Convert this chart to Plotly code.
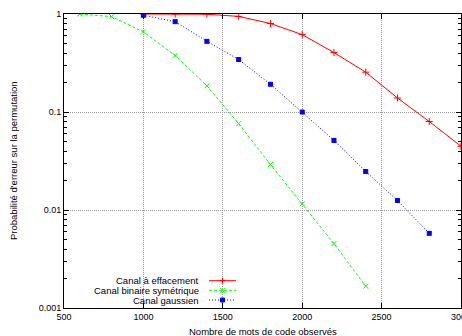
import plotly.graph_objects as go

x_eff = [1000, 1200, 1400, 1600, 1800, 2000, 2200, 2400, 2600, 2800, 3000]
y_eff = [1.0, 1.0, 0.995, 0.945, 0.80, 0.616, 0.404, 0.255, 0.139, 0.080, 0.0447]

x_bsc = [600, 800, 1000, 1200, 1400, 1600, 1800, 2000, 2200, 2400]
y_bsc = [1.0, 0.94, 0.656, 0.377, 0.185, 0.076, 0.0291, 0.0116, 0.00454, 0.00167]

x_gau = [1000, 1200, 1400, 1600, 1800, 2000, 2200, 2400, 2600, 2800]
y_gau = [0.97, 0.835, 0.526, 0.343, 0.192, 0.100, 0.0513, 0.0247, 0.0125, 0.00578]

names = ["Canal à effacement", "Canal binaire symétrique", "Canal gaussien"]
x_title = "Nombre de mots de code observés"
y_title = "Probabilité d'erreur sur la permutation"
x_ticks = [500, 1000, 1500, 2000, 2500, 3000]
y_ticks = [0.001, 0.01, 0.1, 1]
y_ticklabels = ["0.001", "0.01", "0.1", "1"]
y_minor_ticks = [m * 10 ** e for e in (-3, -2, -1) for m in range(2, 10)]

colors = ["#ff0000", "#00ff00", "#0000ff"]

W, H = 462, 336
ML, MR, MT, MB = 64, 1, 14, 28
PW, PH = W - ML - MR, H - MT - MB


def px(xp):
    return (xp - ML) / PW


def py(yp):
    return (H - MB - yp) / PH


fig = go.Figure()
fig.add_trace(go.Scatter(
    x=x_eff, y=y_eff, name=names[0], mode="lines+markers",
    line=dict(color=colors[0], width=1, dash="solid"),
    marker=dict(symbol="cross-thin-open", size=5, color=colors[0],
                line=dict(color=colors[0], width=1)),
))
fig.add_trace(go.Scatter(
    x=x_bsc, y=y_bsc, name=names[1], mode="lines+markers",
    line=dict(color=colors[1], width=1, dash="3px,2px"),
    marker=dict(symbol="x-thin-open", size=5, color=colors[1],
                line=dict(color=colors[1], width=1)),
))
fig.add_trace(go.Scatter(
    x=x_gau, y=y_gau, name=names[2], mode="lines+markers",
    line=dict(color=colors[2], width=1, dash="1px,2px"),
    marker=dict(symbol="square-x", size=4, color=colors[2],
                line=dict(color=colors[2], width=1)),
))

# custom gnuplot-style legend (text right-aligned, key sample on the right)
shapes = []
annotations = []
dashes = ["solid", "3px,2px", "1px,2px"]
leg_text_right = 201
leg_x0, leg_x1, leg_xc = 209, 236, 222.5
leg_rows = [280.7, 290.3, 300.0]
for i, (nm, col, ds, yr) in enumerate(zip(names, colors, dashes, leg_rows)):
    annotations.append(dict(text=nm, xref="paper", yref="paper", x=px(leg_text_right), y=py(yr),
                            xanchor="right", yanchor="middle", showarrow=False,
                            font=dict(size=9.5)))
    shapes.append(dict(type="line", xref="paper", yref="paper", x0=px(leg_x0), x1=px(leg_x1),
                       y0=py(yr), y1=py(yr), line=dict(color=col, width=1, dash=ds)))
    if i == 0:
        shapes.append(dict(type="line", xref="paper", yref="paper", x0=px(leg_xc - 3), x1=px(leg_xc + 3),
                           y0=py(yr), y1=py(yr), line=dict(color=col, width=1)))
        shapes.append(dict(type="line", xref="paper", yref="paper", x0=px(leg_xc), x1=px(leg_xc),
                           y0=py(yr - 3), y1=py(yr + 3), line=dict(color=col, width=1)))
    elif i == 1:
        shapes.append(dict(type="line", xref="paper", yref="paper", x0=px(leg_xc - 2.5), x1=px(leg_xc + 2.5),
                           y0=py(yr - 2.5), y1=py(yr + 2.5), line=dict(color=col, width=1)))
        shapes.append(dict(type="line", xref="paper", yref="paper", x0=px(leg_xc - 2.5), x1=px(leg_xc + 2.5),
                           y0=py(yr + 2.5), y1=py(yr - 2.5), line=dict(color=col, width=1)))
    else:
        shapes.append(dict(type="rect", xref="paper", yref="paper", x0=px(leg_xc - 2), x1=px(leg_xc + 2),
                           y0=py(yr - 2), y1=py(yr + 2), line=dict(color=col, width=1), fillcolor=col))

annotations.append(dict(text=x_title, xref="paper", yref="paper", x=0.5, y=0,
                        yshift=-23, yanchor="middle", showarrow=False, font=dict(size=9.5)))
annotations.append(dict(text=y_title, xref="paper", yref="paper", x=0, y=0.5,
                        xshift=-51, xanchor="center", textangle=-90, showarrow=False,
                        font=dict(size=9.5)))

font = "Liberation Sans, Arial, Helvetica, sans-serif"
grid = dict(showgrid=True, gridcolor="#999999", griddash="1px,1px", gridwidth=1)
fig.update_layout(
    width=W, height=H,
    margin=dict(l=ML, r=MR, t=MT, b=MB),
    paper_bgcolor="white", plot_bgcolor="white",
    font=dict(family=font, size=9, color="black"),
    showlegend=False,
    xaxis=dict(
        range=[500, 3000], tickvals=x_ticks, ticktext=[str(v) for v in x_ticks],
        automargin=False, ticklabeloverflow="allow",
        ticks="inside", ticklen=5, tickcolor="black",
        showline=True, linecolor="black", linewidth=1, mirror="ticks",
        zeroline=False, **grid,
    ),
    yaxis=dict(
        type="log", range=[-3, 0], tickvals=y_ticks, ticktext=y_ticklabels,
        automargin=False, ticklabeloverflow="allow",
        ticks="inside", ticklen=5, tickcolor="black",
        showline=True, linecolor="black", linewidth=1, mirror="ticks",
        zeroline=False, **grid,
        minor=dict(ticks="inside", ticklen=3, tickcolor="black",
                   tickvals=y_minor_ticks, showgrid=False),
    ),
    shapes=shapes,
    annotations=annotations,
)

fig.write_html("out.html", config={"displayModeBar": False},
               post_script="document.body.style.margin='0';")
